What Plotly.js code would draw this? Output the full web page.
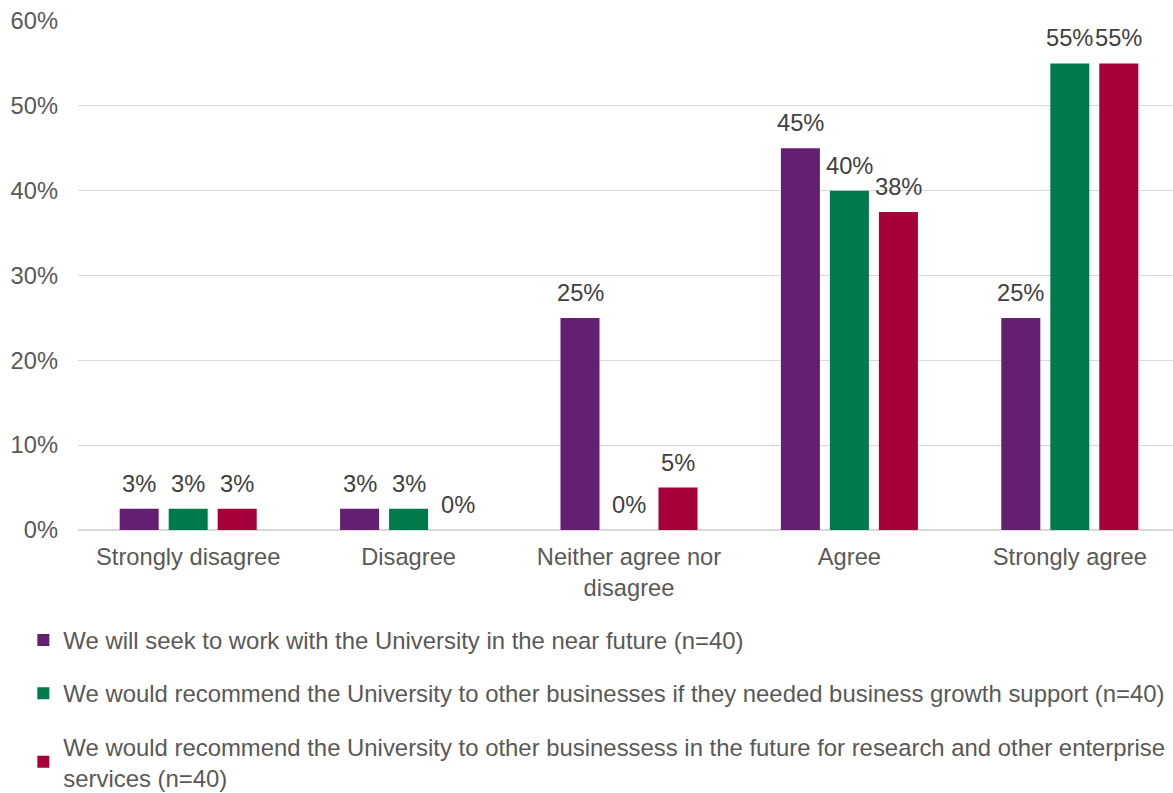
<!DOCTYPE html>
<html>
<head>
<meta charset="utf-8">
<script src="https://cdn.plot.ly/plotly-3.0.1.min.js"></script>
<style>html,body{margin:0;padding:0;overflow:hidden;background:#fff}</style>
</head>
<body>
<div id="chart"></div>
<script>
const categories = ["Strongly disagree", "Disagree", "Neither agree nor<br>disagree", "Agree", "Strongly agree"];
const seriesNames = [
  "We will seek to work with the University in the near future (n=40)",
  "We would recommend the University to other businesses if they needed business growth support (n=40)",
  "We would recommend the University to other businessess in the future for research and other enterprise<br>services (n=40)"
];
const seekWork = [2.5, 2.5, 25, 45, 25];
const recommendGrowth = [2.5, 2.5, 0, 40, 55];
const recommendResearch = [2.5, 0, 5, 37.5, 55];
const yTicks = [0, 10, 20, 30, 40, 50, 60];

const colors = ["#641E72", "#007A4A", "#A5003A"];
const values = [seekWork, recommendGrowth, recommendResearch];
const FONT = '"Liberation Sans", Arial, sans-serif';
const bargap = 0.333;

const traces = values.map((v, i) => ({
  type: "bar",
  x: categories,
  y: v,
  name: seriesNames[i],
  legendgroup: "g" + i,
  marker: {color: colors[i]},
  hoverinfo: "skip"
}));

const slot = (1 - bargap) / values.length;
const annotations = [];
values.forEach((v, i) => {
  v.forEach((val, c) => {
    annotations.push({
      x: c + (i - (values.length - 1) / 2) * slot,
      y: val,
      xref: "x", yref: "y",
      text: Math.round(val) + "%",
      showarrow: false,
      yanchor: "bottom",
      yshift: 10,
      font: {family: FONT, size: 23.7, color: "#404040"}
    });
  });
});

const layout = {
  width: 1180,
  height: 793,
  margin: {l: 78, r: 0, t: 21, b: 263, autoexpand: false},
  paper_bgcolor: "#fff",
  plot_bgcolor: "#fff",
  font: {family: FONT, size: 23.7, color: "#595959"},
  barmode: "group",
  bargap: bargap,
  bargroupgap: 0.204,
  showlegend: true,
  legend: {
    orientation: "v",
    x: -0.0496, xanchor: "left",
    y: -0.173, yanchor: "top",
    traceorder: "grouped",
    tracegroupgap: 19,
    font: {family: FONT, size: 23.9, color: "#595959"},
    bgcolor: "rgba(0,0,0,0)"
  },
  xaxis: {
    type: "category",
    showgrid: false,
    showline: false,
    zeroline: false,
    ticks: "",
    ticklabelstandoff: 10,
    tickfont: {family: FONT, size: 23.7, color: "#595959"}
  },
  yaxis: {
    range: [0, 60],
    tickvals: yTicks,
    ticktext: yTicks.map(t => t + "%"),
    showgrid: true,
    gridcolor: "#D9D9D9",
    gridwidth: 1.3,
    zeroline: true,
    zerolinecolor: "#D9D9D9",
    zerolinewidth: 1.3,
    showline: false,
    ticks: "",
    ticklabelstandoff: 19,
    tickfont: {family: FONT, size: 23.7, color: "#595959"}
  },
  annotations: annotations
};

Plotly.newPlot("chart", traces, layout, {displayModeBar: false, staticPlot: true});
</script>
</body>
</html>
